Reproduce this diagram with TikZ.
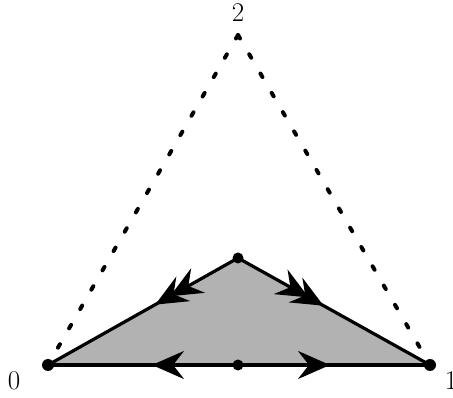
\documentclass[tikz,border=0pt]{standalone}
\usetikzlibrary{arrows.meta,decorations.markings}
\begin{document}
\begin{tikzpicture}[x=1pt,y=-1pt,
  edge/.style={line width=3.2pt},
  dots/.style={line width=4pt,line cap=round,dash pattern=on 4pt off 18.3pt},
  lbl/.style={font=\fontsize{27}{27}\selectfont,inner sep=0pt},
  vdot/.style={fill=black}]
\tikzset{myhead/.tip={Stealth[length=32pt,width=28pt,inset=11pt]}}
\useasboundingbox (0,0) rectangle (453,398);
\coordinate (v0) at (48,365);
\coordinate (v1) at (430,365);
\coordinate (v2) at (238,35);
\coordinate (a) at (238,258);
\coordinate (m) at (238,365);
\fill[black!30] (v0) -- (a) -- (v1) -- cycle;
\draw[dots] (v2) -- (v0);
\draw[dots] (v2) -- (v1);
\draw[edge,postaction={decorate},decoration={markings,
  mark=at position 78pt with {\arrow{myhead}},
  mark=at position 95pt with {\arrow{myhead}}}] (a) -- (v0);
\draw[edge,postaction={decorate},decoration={markings,
  mark=at position 81pt with {\arrow{myhead}},
  mark=at position 98pt with {\arrow{myhead}}}] (a) -- (v1);
\draw[edge,postaction={decorate},decoration={markings,
  mark=at position 86pt with {\arrow{myhead}}}] (m) -- (v0);
\draw[edge,postaction={decorate},decoration={markings,
  mark=at position 92pt with {\arrow{myhead}}}] (m) -- (v1);
\fill[vdot] (v0) circle (6pt);
\fill[vdot] (v1) circle (6pt);
\fill[vdot] (a) circle (5.5pt);
\fill[vdot] (m) circle (5.5pt);
\node[lbl] (l0) at (14,381) {0};
\node[lbl] (l1) at (451,381) {1};
\node[lbl] (l2) at (238,13) {2};
\end{tikzpicture}
\end{document}
